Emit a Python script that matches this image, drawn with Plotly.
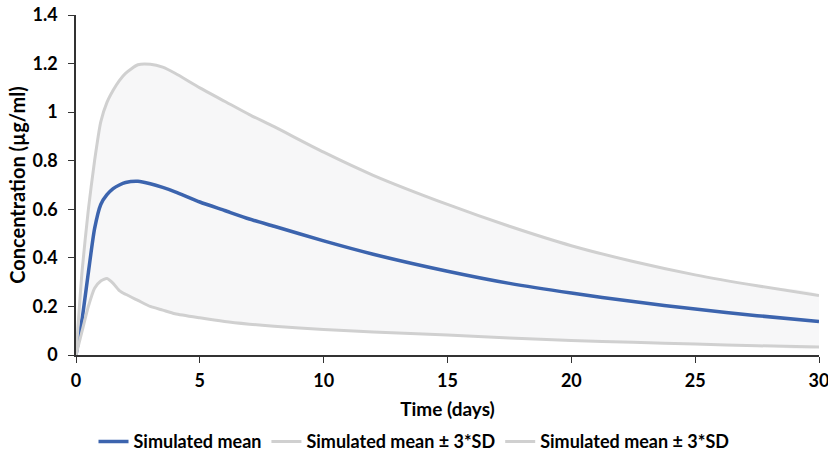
import plotly.graph_objects as go

time_days = [0, 0.25, 0.5, 0.75, 1, 1.25, 1.5, 1.75, 2, 2.5, 3, 3.5, 4, 5, 6, 7, 8, 10, 12, 15, 17.5, 20, 22.5, 25, 27.5, 30]
sim_mean = [0.0, 0.15, 0.34, 0.52, 0.62, 0.66, 0.685, 0.70, 0.71, 0.715, 0.705, 0.69, 0.672, 0.63, 0.595, 0.56, 0.53, 0.47, 0.415, 0.345, 0.295, 0.255, 0.22, 0.189, 0.162, 0.138]
sim_upper = [0.0, 0.35, 0.6, 0.8, 0.96, 1.04, 1.09, 1.13, 1.16, 1.195, 1.197, 1.185, 1.16, 1.10, 1.045, 0.99, 0.94, 0.835, 0.74, 0.62, 0.53, 0.45, 0.385, 0.33, 0.285, 0.245]
sim_lower = [0.0, 0.1, 0.2, 0.275, 0.305, 0.315, 0.295, 0.265, 0.25, 0.225, 0.2, 0.185, 0.17, 0.153, 0.138, 0.127, 0.118, 0.105, 0.095, 0.082, 0.07, 0.06, 0.052, 0.045, 0.038, 0.033]

y_ticks = [0, 0.2, 0.4, 0.6, 0.8, 1, 1.2, 1.4]
y_tick_labels = ["0", "0.2", "0.4", "0.6", "0.8", "1", "1.2", "1.4"]
x_ticks = [0, 5, 10, 15, 20, 25, 30]

BLUE = "#3c64ae"
GRAY = "#d0d0d0"
FILL = "#f7f7f8"
FONT = "Lato"
TICK_FS = 18
TITLE_FS = 19
LEG_FS = 18

fig = go.Figure()

# shaded band between lower and upper
fig.add_trace(go.Scatter(
    x=time_days + time_days[::-1],
    y=sim_upper + sim_lower[::-1],
    fill="toself", fillcolor=FILL, line=dict(width=0, shape="spline", smoothing=0.6),
    mode="lines", showlegend=False, hoverinfo="skip",
))

fig.add_trace(go.Scatter(x=time_days, y=sim_mean, mode="lines", name="Simulated mean",
                         line=dict(color=BLUE, width=3.5, shape="spline", smoothing=0.6)))
fig.add_trace(go.Scatter(x=time_days, y=sim_upper, mode="lines", name="Simulated mean ± 3*SD",
                         line=dict(color=GRAY, width=3, shape="spline", smoothing=0.6)))
fig.add_trace(go.Scatter(x=time_days, y=sim_lower, mode="lines", name="Simulated mean ± 3*SD",
                         line=dict(color=GRAY, width=3, shape="spline", smoothing=0.6)))

fig.update_layout(
    width=828, height=456,
    margin=dict(l=76, r=9, t=15, b=101, autoexpand=False),
    paper_bgcolor="white", plot_bgcolor="white",
    font=dict(family=FONT, size=TICK_FS, color="#000000", weight="bold"),
    legend=dict(orientation="h", xref="container", x=0.5, xanchor="center",
                yref="paper", y=-0.255, yanchor="middle",
                font=dict(family=FONT, size=LEG_FS, color="#000000", weight="bold"),
                bgcolor="rgba(0,0,0,0)"),
    showlegend=True,
)
fig.update_xaxes(
    range=[0, 30], tickvals=x_ticks, ticks="outside", ticklen=6, tickcolor="#333",
    showline=True, linecolor="#333", linewidth=1.5, showgrid=False, zeroline=False, automargin=False,
    ticklabelstandoff=3, ticklabeloverflow="allow",
    tickfont=dict(family=FONT, size=TICK_FS, color="#000", weight="bold"),
    title=dict(text="Time (days)", font=dict(family=FONT, size=TITLE_FS, color="#000", weight="bold"), standoff=12),
)
fig.update_yaxes(
    range=[0, 1.4], tickvals=y_ticks, ticktext=y_tick_labels, ticks="outside", ticklen=6, tickcolor="#333",
    showline=True, linecolor="#333", linewidth=1.5, showgrid=False, zeroline=False, automargin=False,
    ticklabelstandoff=7, ticklabeloverflow="allow",
    tickfont=dict(family=FONT, size=TICK_FS, color="#000", weight="bold"),
    title=dict(text="Concentration (µg/ml)", font=dict(family=FONT, size=TITLE_FS + 1, color="#000", weight="bold"), standoff=1),
)

fig.write_html("out.html", config={"displayModeBar": False},
               post_script="document.body.style.margin='0';")
